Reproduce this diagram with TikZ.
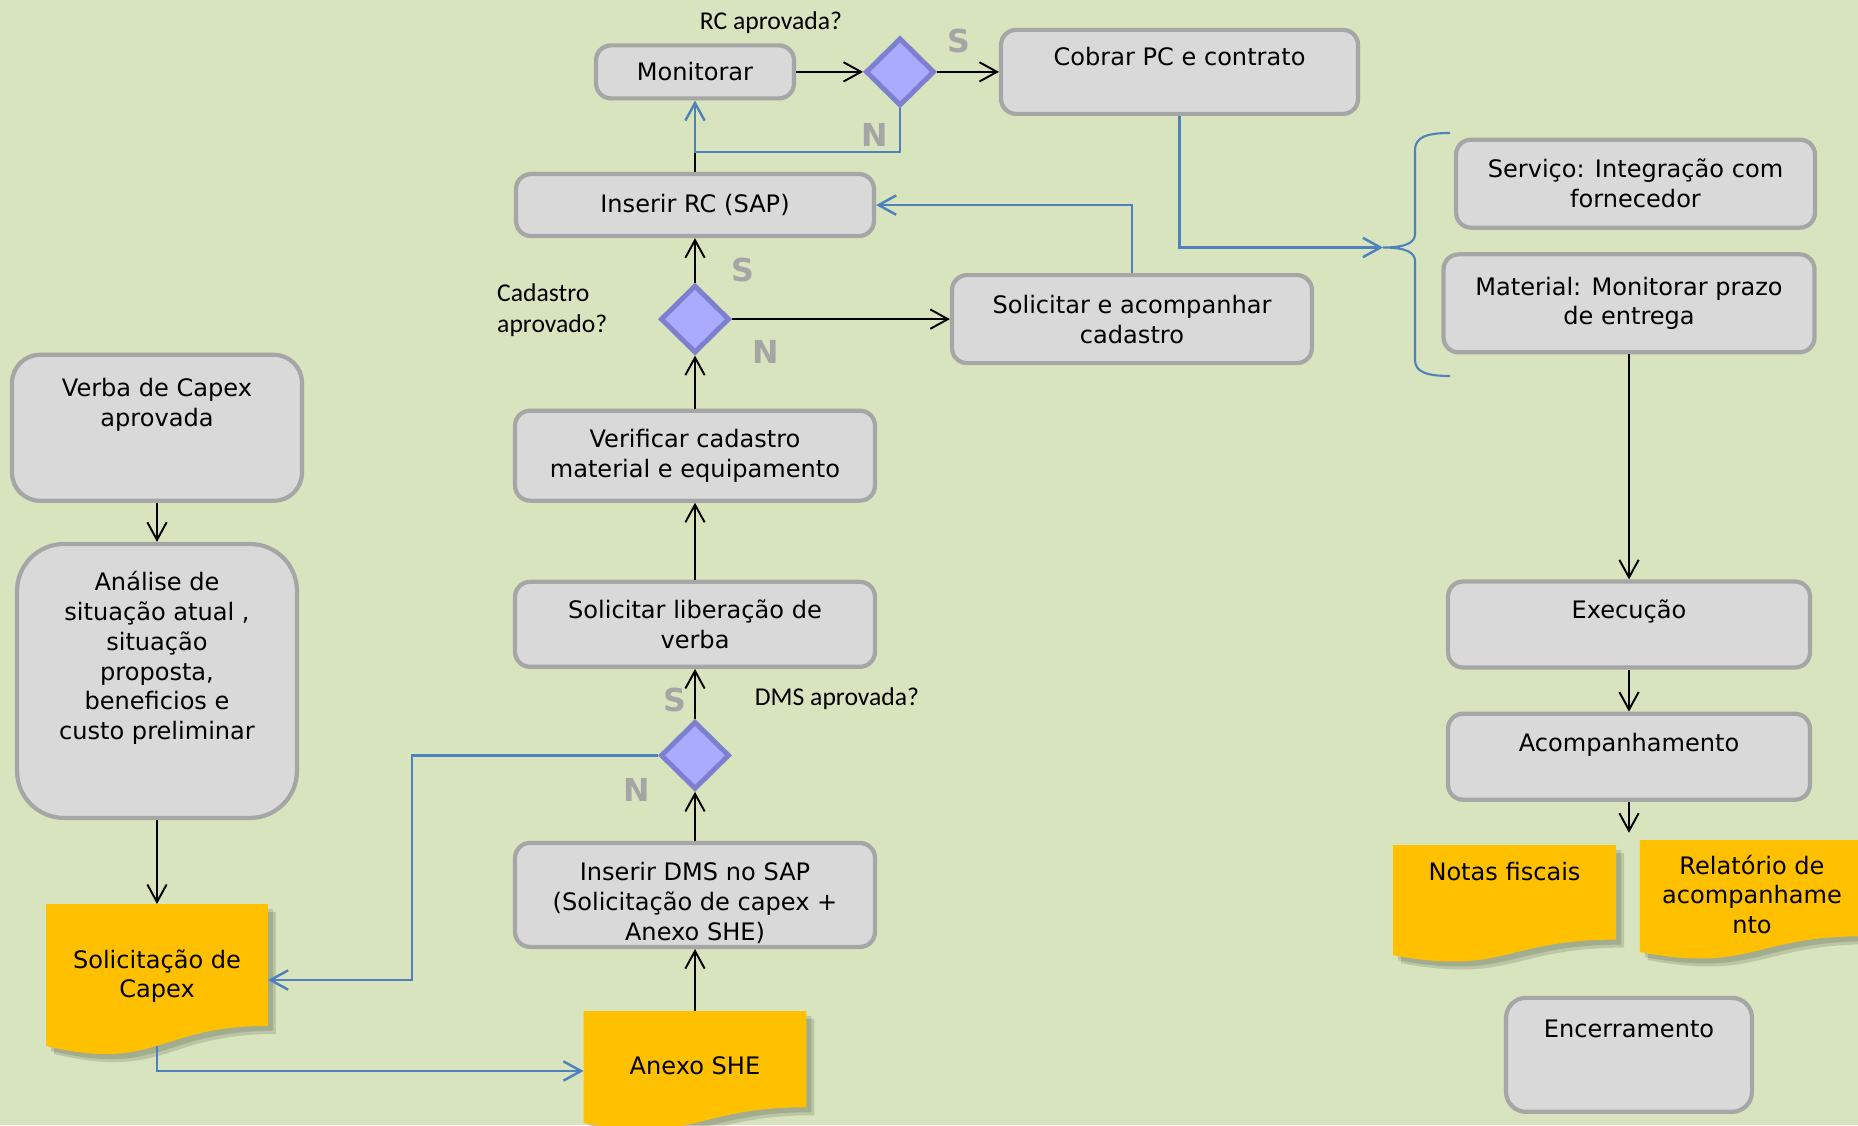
\documentclass[tikz,border=0pt]{standalone}
\usepackage{fontspec}
\setmainfont{DejaVu Sans}
\newfontfamily\askfont{Carlito}
\usetikzlibrary{positioning, shapes.geometric, arrows.meta, calc}

\definecolor{bgreen}{HTML}{D7E4BD}
\definecolor{boxfill}{HTML}{D9D9D9}
\definecolor{boxline}{HTML}{A6A6A6}
\definecolor{docfill}{HTML}{FFC000}
\definecolor{decfill}{HTML}{AAAAFF}
\definecolor{decline}{HTML}{7F7FCF}
\definecolor{flowblue}{HTML}{4F81BD}
\definecolor{yesno}{HTML}{A5A5A5}

\pgfdeclarelayer{paper}
\pgfdeclarelayer{docs}
\pgfsetlayers{paper,docs,main}

\newcommand{\boxfont}{\fontsize{13.7}{17}\selectfont}
\newcommand{\toptext}[4]{\parbox[c][#2][t]{#1}{\centering\rule{0pt}{#3}#4}}

\begin{document}
\begin{tikzpicture}[x=0.02cm, y=-0.02cm, font=\boxfont, >={Straight Barb[length=10pt, width=11pt]}]
    \tikzstyle{proc} = [rectangle, rounded corners=0.3cm, draw=boxline, fill=boxfill, line width=2.4pt, align=center, inner sep=0pt]
    \tikzstyle{decision} = [diamond, draw=decline, fill=decfill, line width=2.8pt, minimum width=1.38cm, minimum height=1.36cm, inner sep=0pt]
    \tikzstyle{doc} = [rectangle, inner sep=0pt, outer sep=0pt, align=center]
    \tikzstyle{docshade} = [fill=black, opacity=0.13]
    \tikzstyle{ask} = [font=\askfont\fontsize{14.6}{17.5}\selectfont, align=left]
    \tikzstyle{yn} = [font=\bfseries\fontsize{18}{18}\selectfont, text=yesno]
    \tikzstyle{flow} = [->, line width=1.1pt]
    \tikzstyle{loopback} = [->, draw=flowblue, line width=1.4pt]

    \useasboundingbox (0,0) rectangle (1858,1125);
    \begin{pgfonlayer}{paper}
        \fill [bgreen] (0,0) rectangle (1858,1125);
    \end{pgfonlayer}

    % left column
    \node [doc] (capex) at (157,980) {\toptext{4.44cm}{3.04cm}{1.28cm}{Solicitação de\\Capex}};
    \node [proc, above = 1.68cm of capex, rounded corners=0.94cm] (analise) {\toptext{5.6cm}{5.48cm}{0.93cm}{Análise de\\situação atual ,\\situação\\proposta,\\beneficios e\\custo preliminar}};
    \node [proc, above = 0.78cm of analise, rounded corners=0.56cm] (verbacapex) {\toptext{5.8cm}{2.92cm}{0.84cm}{Verba de Capex\\aprovada}};

    % middle column
    \node [doc] (anexo) at (695,1071) {\toptext{4.46cm}{2.4cm}{1.26cm}{Anexo SHE}};
    \node [proc, above = 1.24cm of anexo] (dms) {\toptext{7.2cm}{2.08cm}{0.76cm}{Inserir DMS no SAP\\(Solicitação de capex +\\Anexo SHE)}};
    \node [decision, above = 0.98cm of dms] (dmsok) {};
    \node [proc, above = 1.0cm of dmsok, minimum width=7.2cm, minimum height=1.7cm] (liberacao) {Solicitar liberação de\\verba};
    \node [proc, above = 1.54cm of liberacao, minimum width=7.2cm, minimum height=1.8cm] (verif) {Verificar cadastro\\material e equipamento};
    \node [decision, above = 1.06cm of verif] (cadok) {};
    \node [proc, above = 0.89cm of cadok, minimum width=7.16cm, minimum height=1.24cm] (rc) {Inserir RC (SAP)};
    \node [proc, above = 1.43cm of rc, minimum width=3.96cm, minimum height=1.06cm] (monit) {Monitorar};
    \node [decision, right = 1.34cm of monit] (rcok) {};
    \node [proc, right = 1.24cm of rcok] (cobrar) {\toptext{7.14cm}{1.68cm}{0.72cm}{Cobrar PC e contrato}};
    \node [proc, right = 4.36cm of cadok, minimum width=7.2cm, minimum height=1.76cm] (cadastro) {Solicitar e acompanhar\\cadastro};

    % right column
    \node [proc] (exec) at (1629,624.5) {\toptext{7.24cm}{1.72cm}{0.73cm}{Execução}};
    \node [proc, below = 0.84cm of exec] (acompanh) {\toptext{7.24cm}{1.72cm}{0.75cm}{Acompanhamento}};
    \node [proc, below = 3.88cm of acompanh, rounded corners=0.4cm] (fim) {\toptext{4.92cm}{2.28cm}{0.79cm}{Encerramento}};
    \node [proc, above = 4.5cm of exec, minimum width=7.42cm, minimum height=1.96cm] (material) {Material: Monitorar prazo\\de entrega};
    \node [proc, above = 0.45cm of material, xshift=0.13cm, minimum width=7.18cm, minimum height=1.76cm] (servico) {Serviço: Integração com\\fornecedor};
    \node [doc] (notas) at (1504.5,904) {\toptext{4.46cm}{2.36cm}{0.7cm}{Notas fiscais}};
    \node [doc, right = 0.48cm of notas, yshift=0.08cm] (relat) {\toptext{4.48cm}{2.4cm}{0.68cm}{Relatório de\\acompanhame\\nto}};
    \coordinate [below = 0.62cm of acompanh] (acompend);
    \coordinate (bracetip) at (1383,247.5);
    \coordinate (rcjoin) at ([yshift=0.4cm]rc.north);

    % questions and answers
    \node [ask] (rcq) at (771,23) {RC aprovada?};
    \node [ask, anchor=west] (cadq) at (491,310) {Cadastro\\aprovado?};
    \node [ask] (dmsq) at (837,699) {DMS aprovada?};
    \node [yn] (rcS) at (959,41) {S};
    \node [yn] (rcN) at (875,135) {N};
    \node [yn] (cadS) at (743,270) {S};
    \node [yn] (cadN) at (766,352) {N};
    \node [yn] (dmsS) at (675,700) {S};
    \node [yn] (dmsN) at (637,790) {N};

    % document shapes
    \begin{pgfonlayer}{docs}
        \foreach \d in {capex, anexo, notas, relat} {
            \foreach \s in {8, 5}
                \fill [docshade] ($(\d.north west)+(\s,\s)$) -- ($(\d.north east)+(\s,\s)$) -- ($(\d.north east)!0.802!(\d.south east)+(\s,\s)$) .. controls ($(\d.north)!0.802!(\d.south)+(\s,\s)$) and ($(\d.north)!1.1075!(\d.south)+(\s,\s)$) .. ($(\d.north west)!0.934!(\d.south west)+(\s,\s)$) -- cycle;
            \fill [docfill] (\d.north west) -- (\d.north east) -- ($(\d.north east)!0.802!(\d.south east)$) .. controls ($(\d.north)!0.802!(\d.south)$) and ($(\d.north)!1.1075!(\d.south)$) .. ($(\d.north west)!0.934!(\d.south west)$) -- cycle;
        }
    \end{pgfonlayer}

    % brace
    \draw [flowblue, line width=1.2pt] (1450,133) .. controls (1427,133) and (1415,137) .. (1415,150) -- (1415,234) .. controls (1415,243) and (1405,247.5) .. (bracetip) .. controls (1405,247.5) and (1415,252) .. (1415,261) -- (1415,360) .. controls (1415,372) and (1427,376) .. (1450,376);

    \draw [flow] (verbacapex) -- (analise);
    \draw [flow] (analise) -- (capex);
    \draw [loopback] ($(capex.north)!0.933!(capex.south)$) |- (anexo.west);
    \draw [flow] (anexo) -- (dms);
    \draw [flow] (dms) -- (dmsok);
    \draw [loopback] (dmsok.west) -- ++(-4.92cm,0) |- (capex.east);
    \draw [flow] (dmsok) -- (liberacao);
    \draw [flow] (liberacao) -- (verif);
    \draw [flow] (verif) -- (cadok);
    \draw [flow] (cadok) -- (rc);
    \draw [flow] (cadok) -- (cadastro);
    \draw [loopback] (cadastro.north) |- (rc.east);
    \draw [line width=1.1pt] (rc.north) -- (rcjoin);
    \draw [loopback] (rcok.south) |- (rcjoin) -- (monit.south);
    \draw [flow] (monit) -- (rcok);
    \draw [flow] (rcok) -- (cobrar);
    \draw [loopback] (cobrar.south) |- (bracetip);
    \draw [flow] (material) -- (exec);
    \draw [flow] (exec) -- (acompanh);
    \draw [flow] (acompanh) -- (acompend);
\end{tikzpicture}
\end{document}
